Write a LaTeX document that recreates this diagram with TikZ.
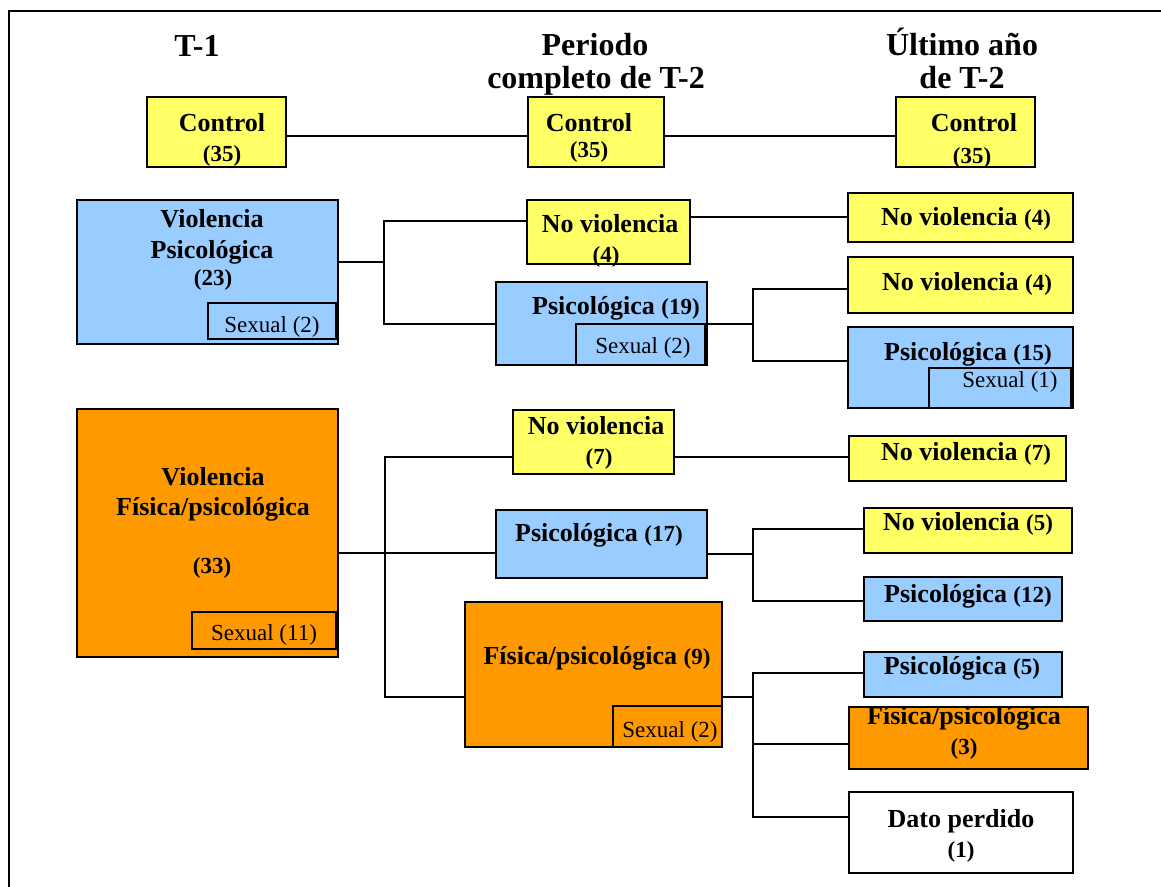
\documentclass[tikz,border=0pt]{standalone}
\usepackage{fontspec}
\setmainfont{Liberation Serif}
\definecolor{yel}{HTML}{FFFF66}
\definecolor{blu}{HTML}{99CCFF}
\definecolor{ora}{HTML}{FF9900}
\tikzset{
  box/.style={draw, line width=1.6pt, inner sep=0pt, rectangle},
  wire/.style={line width=1.5pt},
  hd/.style={font=\fontsize{32}{36}\selectfont\bfseries, anchor=base, inner sep=0pt},
  lb/.style={font=\fontsize{26}{30}\selectfont\bfseries, anchor=base, inner sep=0pt},
  nm/.style={font=\fontsize{23}{26}\selectfont\bfseries, anchor=base, inner sep=0pt},
  sx/.style={font=\fontsize{23}{26}\selectfont, anchor=base, inner sep=0pt},
}
% box given by its corners: name, x1, y1, x2, y2, fill
\newcommand\drawbox[6]{%
  \node[box, fill=#6, minimum width={(#4-#2)*1pt}, minimum height={(#5-#3)*1pt}]
    (#1) at ({(#2+#4)/2},{(#3+#5)/2}) {};}
\newcommand\nmb[1]{{\fontsize{23}{26}\selectfont #1}}
\begin{document}
\begin{tikzpicture}[x=1pt, y=-1pt]
\useasboundingbox (0,0) rectangle (1161,886);
\clip (0,0) rectangle (1161,886);
\fill[white] (0,0) rectangle (1161,886);
\draw[line width=1.5pt] (9,11) rectangle (1180,900);

% column headings
\node[hd] (h1) at (197,56) {T-1};
\node[hd] (h2a) at (595,55) {Periodo};
\node[hd] (h2b) at (596,88) {completo de T-2};
\node[hd] (h3a) at (962,55) {Último año};
\node[hd] (h3b) at (962,88) {de T-2};

% control group
\drawbox{c1}{147}{97}{286}{167}{yel}
\drawbox{c2}{528}{97}{664}{167}{yel}
\drawbox{c3}{896}{97}{1035}{167}{yel}
\node[lb] (c1t) at (222,131) {Control};
\node[nm] (c1n) at (222,161) {(35)};
\node[lb] (c2t) at (589,131) {Control};
\node[nm] (c2n) at (589,157) {(35)};
\node[lb] (c3t) at (974,131) {Control};
\node[nm] (c3n) at (972,163) {(35)};
\draw[wire] (c1.east |- 0,136) -- (c2.west |- 0,136);
\draw[wire] (c2.east |- 0,136) -- (c3.west |- 0,136);

% psychological violence branch
\drawbox{vp}{77}{200}{338}{344}{blu}
\drawbox{vps}{208}{303}{336}{339}{blu}
\node[lb] (vpt1) at (212,227) {Violencia};
\node[lb] (vpt2) at (212,258) {Psicológica};
\node[nm] (vpt3) at (213,285) {(23)};
\node[sx] (vpst) at (272,332) {Sexual (2)};

\drawbox{nv4a}{527}{200}{690}{264}{yel}
\node[lb] (nv4at) at (610,232) {No violencia};
\node[nm] (nv4an) at (606,262) {(4)};

\drawbox{ps19}{496}{282}{707}{365}{blu}
\drawbox{ps19s}{576}{324}{705}{365}{blu}
\node[lb] (ps19t) at (616,314) {Psicológica \nmb{(19)}};
\node[sx] (ps19st) at (643,353) {Sexual (2)};

\drawbox{nv4b}{848}{193}{1073}{242}{yel}
\node[lb] (nv4bt) at (966,225) {No violencia \nmb{(4)}};
\drawbox{nv4c}{848}{257}{1073}{313}{yel}
\node[lb] (nv4ct) at (967,290) {No violencia \nmb{(4)}};
\drawbox{ps15}{848}{327}{1073}{408}{blu}
\drawbox{ps15s}{929}{368}{1071}{408}{blu}
\node[lb] (ps15t) at (968,360) {Psicológica \nmb{(15)}};
\node[sx] (ps15st) at (1010,387) {Sexual (1)};

\draw[wire] (vp.east |- 0,262) -- (384,262);
\draw[wire] (nv4a.west |- 0,221) -| (384,324) -- (ps19.west |- 0,324);
\draw[wire] (nv4a.east |- 0,217) -- (nv4b.west |- 0,217);
\draw[wire] (ps19.east |- 0,324) -- (753,324);
\draw[wire] (nv4c.west |- 0,289) -| (753,361) -- (ps15.west |- 0,361);

% physical/psychological violence branch
\drawbox{vf}{77}{409}{338}{657}{ora}
\drawbox{vfs}{192}{612}{336}{649}{ora}
\node[lb] (vft1) at (213,485) {Violencia};
\node[lb] (vft2) at (213,515) {Física/psicológica};
\node[nm] (vft3) at (212,573) {(33)};
\node[sx] (vfst) at (264,640) {Sexual (11)};

\drawbox{nv7}{513}{410}{674}{474}{yel}
\node[lb] (nv7t) at (596,434) {No violencia};
\node[nm] (nv7n) at (599,464) {(7)};

\drawbox{ps17}{496}{510}{707}{578}{blu}
\node[lb] (ps17t) at (599,541) {Psicológica \nmb{(17)}};

\drawbox{fp9}{465}{602}{722}{747}{ora}
\drawbox{fp9s}{613}{706}{722}{747}{ora}
\node[lb] (fp9t) at (597,664) {Física/psicológica \nmb{(9)}};
\node[sx] (fp9st) at (670,737) {Sexual (2)};

\drawbox{nv7b}{849}{436}{1066}{481}{yel}
\node[lb] (nv7bt) at (966,460) {No violencia \nmb{(7)}};
\drawbox{nv5}{864}{508}{1072}{553}{yel}
\node[lb] (nv5t) at (968,530) {No violencia \nmb{(5)}};
\drawbox{ps12}{864}{577}{1062}{621}{blu}
\node[lb] (ps12t) at (968,602) {Psicológica \nmb{(12)}};
\drawbox{ps5}{864}{652}{1062}{697}{blu}
\node[lb] (ps5t) at (962,674) {Psicológica \nmb{(5)}};
\drawbox{fp3}{849}{707}{1088}{769}{ora}
\node[lb] (fp3t) at (964,724) {Física/psicológica};
\node[nm] (fp3n) at (964,754) {(3)};
\drawbox{dp}{849}{792}{1073}{873}{white}
\node[lb] (dpt) at (961,827) {Dato perdido};
\node[nm] (dpn) at (961,857) {(1)};

\draw[wire] (vf.east |- 0,553) -- (ps17.west |- 0,553);
\draw[wire] (nv7.west |- 0,457) -| (385,697) -- (fp9.west |- 0,697);
\draw[wire] (nv7.east |- 0,457) -- (nv7b.west |- 0,457);
\draw[wire] (ps17.east |- 0,554) -- (753,554);
\draw[wire] (nv5.west |- 0,529) -| (753,601) -- (ps12.west |- 0,601);
\draw[wire] (fp9.east |- 0,697) -- (753,697);
\draw[wire] (ps5.west |- 0,673) -| (753,817) -- (dp.west |- 0,817);
\draw[wire] (753,744) -- (fp3.west |- 0,744);
\end{tikzpicture}
\end{document}
